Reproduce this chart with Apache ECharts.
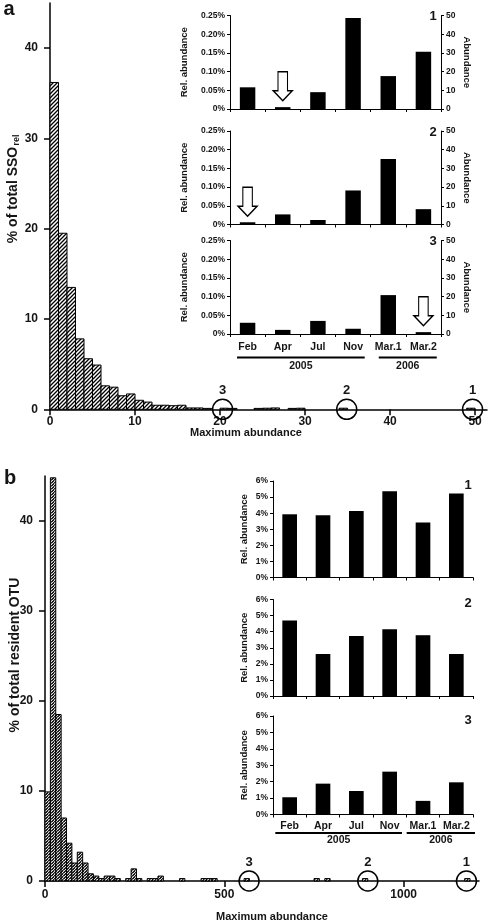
<!DOCTYPE html>
<html><head><meta charset="utf-8">
<script src="https://cdn.jsdelivr.net/npm/echarts@6/dist/echarts.min.js"></script>
<style>html,body{margin:0;padding:0;background:#fff}#c{width:493px;height:921px}</style>
</head><body><div id="c"></div>
<script>
// ---------------- data ----------------
// panel a histogram: bins of width 1 (maximum abundance), % of total SSOrel
const binA = 1;
const histA = [36.2, 19.5, 13.5, 7.8, 5.6, 4.9, 2.6, 2.45, 1.5, 1.7,
               1.0, 0.8, 0.45, 0.45, 0.4, 0.45, 0.15, 0.15, 0.1, 0,
               0.12, 0.1, 0, 0, 0.1, 0.12, 0.15, 0, 0.1, 0.12,
               0, 0, 0, 0, 0.12, 0, 0, 0, 0, 0,
               0, 0, 0, 0, 0, 0, 0, 0, 0, 0.12];
const circleValsA = [20.3, 34.9, 49.7];
const circleNames = ['3', '2', '1'];
const xTicksA = [0, 10, 20, 30, 40, 50];
const yTicksHist = [0, 10, 20, 30, 40];

// panel b histogram: bins of width 15, % of total resident OTU
const binB = 15;
const histB = [9.9, 44.8, 18.5, 7.0, 4.2, 2.0, 3.2, 2.0, 0.8, 0.55,
               0.27, 0.55, 0.55, 0.27, 0, 0.27, 1.35, 0.27, 0, 0.27,
               0.27, 0.55, 0, 0, 0, 0.27, 0, 0, 0, 0.27,
               0.27, 0.27, 0, 0, 0, 0, 0, 0.27, 0, 0,
               0, 0, 0, 0, 0, 0, 0, 0, 0, 0,
               0.27, 0, 0.27, 0, 0, 0, 0, 0, 0, 0.27,
               0, 0, 0, 0, 0, 0, 0, 0, 0, 0,
               0, 0, 0, 0, 0, 0, 0, 0, 0.27];
const circleValsB = [569, 900, 1175];
const xTicksB = [0, 500, 1000];

// insets
const months = ['Feb', 'Apr', 'Jul', 'Nov', 'Mar.1', 'Mar.2'];
const years = ['2005', '2006'];
const relA1 = [0.058, 0.005, 0.045, 0.243, 0.088, 0.153];
const relA2 = [0.006, 0.027, 0.012, 0.091, 0.175, 0.041];
const relA3 = [0.030, 0.011, 0.035, 0.014, 0.104, 0.005];
const arrowMonthsA = ['Apr', 'Feb', 'Mar.2'];
const arrowMid = 0.061;
const relB1 = [3.93, 3.87, 4.14, 5.36, 3.42, 5.22];
const relB2 = [4.69, 2.61, 3.73, 4.15, 3.78, 2.61];
const relB3 = [1.05, 1.88, 1.43, 2.61, 0.83, 1.96];
const insetNames = ['1', '2', '3'];

// ---------------- layout / style ----------------
const FONT = '"Liberation Sans", Arial, sans-serif';
const INK = '#151515';
const grids = [
  {left: 50, top: 3, width: 437, height: 406.3},      // 0 a hist
  {left: 230, top: 15.5, width: 211, height: 93.5},   // 1 a1
  {left: 230, top: 131, width: 211, height: 93.5},    // 2 a2
  {left: 230, top: 240.5, width: 211, height: 93.5},  // 3 a3
  {left: 45, top: 476, width: 434, height: 405},      // 4 b hist
  {left: 273, top: 481, width: 200, height: 96.5},    // 5 b1
  {left: 273, top: 599.5, width: 200, height: 96.5},  // 6 b2
  {left: 273, top: 716, width: 200, height: 98.5}     // 7 b3
];

function hatch(step, lw) {
  const c = document.createElement('canvas');
  c.width = c.height = step;
  const g = c.getContext('2d');
  g.fillStyle = '#fff'; g.fillRect(0, 0, step, step);
  g.strokeStyle = '#000'; g.lineWidth = lw;
  g.beginPath();
  g.moveTo(0, step); g.lineTo(step, 0);
  g.moveTo(-step / 2, step / 2); g.lineTo(step / 2, -step / 2);
  g.moveTo(step / 2, step * 1.5); g.lineTo(step * 1.5, step / 2);
  g.stroke();
  return {image: c, repeat: 'repeat'};
}
const patA = hatch(4, 1.3);
const patB = hatch(3.5, 1.4);

function histRender(bw, pat) {
  return function (params, api) {
    const x0 = api.value(0), h = api.value(1);
    if (!h) return null;
    const p0 = api.coord([x0, h]);
    const p1 = api.coord([x0 + bw, 0]);
    return {type: 'rect',
      shape: {x: p0[0], y: p0[1], width: p1[0] - p0[0], height: p1[1] - p0[1]},
      style: {fill: pat, stroke: '#000', lineWidth: 1}};
  };
}

const histAxisLine = {show: true, onZero: false, lineStyle: {color: '#000', width: 1.5}};
const histTick = (vals) => ({show: true, length: 6, customValues: vals, lineStyle: {color: '#000', width: 1.5}});
const histLabel = (vals, margin) => ({show: true, customValues: vals, fontSize: 12, fontWeight: 'bold', color: INK, fontFamily: FONT, margin: margin, formatter: v => String(v)});

function catAxis(gi, showLabel, margin) {
  return {type: 'category', gridIndex: gi, data: months, boundaryGap: true,
    axisLine: {show: true, lineStyle: {color: '#000', width: 1}},
    axisTick: {show: true, length: 3, lineStyle: {color: '#000'}},
    axisLabel: {show: showLabel, fontSize: 10.5, fontWeight: 'bold', color: INK, fontFamily: FONT, margin: margin, interval: 0},
    splitLine: {show: false}};
}
function pctAxisA(gi) {
  return {type: 'value', gridIndex: gi, min: 0, max: 0.25, interval: 0.05,
    name: 'Rel. abundance', nameLocation: 'middle', nameGap: 41,
    nameTextStyle: {fontSize: 9.5, fontWeight: 'bold', color: INK, fontFamily: FONT},
    axisLine: {show: true, lineStyle: {color: '#000', width: 1}},
    axisTick: {show: true, length: 3, lineStyle: {color: '#000'}},
    axisLabel: {fontSize: 8.5, fontWeight: 'bold', color: INK, fontFamily: FONT, margin: 5,
      formatter: v => v === 0 ? '0%' : v.toFixed(2) + '%'},
    splitLine: {show: false}};
}
function absAxisA(gi) {
  return {type: 'value', gridIndex: gi, position: 'right', min: 0, max: 50, interval: 10,
    name: 'Abundance', nameLocation: 'middle', nameGap: 21, nameRotate: -90,
    nameTextStyle: {fontSize: 9.5, fontWeight: 'bold', color: INK, fontFamily: FONT},
    axisLine: {show: true, lineStyle: {color: '#000', width: 1}},
    axisTick: {show: true, length: 3, lineStyle: {color: '#000'}},
    axisLabel: {fontSize: 8.5, fontWeight: 'bold', color: INK, fontFamily: FONT, margin: 5},
    splitLine: {show: false}};
}
function pctAxisB(gi) {
  return {type: 'value', gridIndex: gi, min: 0, max: 6, interval: 1,
    name: 'Rel. abundance', nameLocation: 'middle', nameGap: 24,
    nameTextStyle: {fontSize: 9.5, fontWeight: 'bold', color: INK, fontFamily: FONT},
    axisLine: {show: true, lineStyle: {color: '#000', width: 1}},
    axisTick: {show: true, length: 3, lineStyle: {color: '#000'}},
    axisLabel: {fontSize: 8.5, fontWeight: 'bold', color: INK, fontFamily: FONT, margin: 5,
      formatter: v => v + '%'},
    splitLine: {show: false}};
}

const arrowSymbol = 'path://M5,0L15,0L15,19L20,19L10,29L0,19L5,19Z';
function insetBar(xi, yi, data, arrowMonth) {
  const s = {type: 'bar', xAxisIndex: xi, yAxisIndex: yi, data: data, barWidth: '44%',
    itemStyle: {color: '#000'}, silent: true};
  if (arrowMonth) {
    s.markPoint = {symbol: arrowSymbol, symbolSize: [19, 29], silent: true,
      itemStyle: {color: '#fff', borderColor: '#000', borderWidth: 1.3},
      label: {show: false},
      data: [{coord: [arrowMonth, arrowMid]}]};
  }
  return s;
}
function circles(xi, yi, vals) {
  return {type: 'scatter', xAxisIndex: xi, yAxisIndex: yi, clip: false, silent: true,
    symbol: 'circle', symbolSize: 20, z: 5,
    itemStyle: {color: 'none', borderColor: '#000', borderWidth: 1.5, opacity: 1},
    label: {show: false},
    data: vals.map((v, i) => ({name: circleNames[i], value: [v, 0]}))};
}

const chart = echarts.init(document.getElementById('c'), null, {renderer: 'canvas', width: 493, height: 921});

const option = {
  animation: false,
  backgroundColor: '#fff',
  textStyle: {fontFamily: FONT},
  grid: grids.map(g => Object.assign({containLabel: false}, g)),
  xAxis: [
    {type: 'value', gridIndex: 0, min: 0, max: 51.4, axisLine: histAxisLine, axisTick: histTick(xTicksA), axisLabel: histLabel(xTicksA, 6), splitLine: {show: false}},
    catAxis(1, false, 8), catAxis(2, false, 8), catAxis(3, true, 8),
    {type: 'value', gridIndex: 4, min: 0, max: 1210, axisLine: histAxisLine, axisTick: histTick(xTicksB), axisLabel: histLabel(xTicksB, 8), splitLine: {show: false}},
    catAxis(5, false, 6), catAxis(6, false, 6), catAxis(7, true, 6)
  ],
  yAxis: [
    {type: 'value', gridIndex: 0, min: 0, max: 45, axisLine: histAxisLine, axisTick: histTick(yTicksHist), axisLabel: histLabel(yTicksHist, 12), splitLine: {show: false}},
    pctAxisA(1), pctAxisA(2), pctAxisA(3),
    absAxisA(1), absAxisA(2), absAxisA(3),
    {type: 'value', gridIndex: 4, min: 0, max: 45, axisLine: histAxisLine, axisTick: histTick(yTicksHist), axisLabel: histLabel(yTicksHist, 12), splitLine: {show: false}},
    pctAxisB(5), pctAxisB(6), pctAxisB(7)
  ],
  series: [
    {type: 'custom', xAxisIndex: 0, yAxisIndex: 0, silent: true, clip: false,
     renderItem: histRender(binA, patA), encode: {x: 0, y: 1},
     data: histA.map((v, i) => [i * binA, v])},
    circles(0, 0, circleValsA),
    insetBar(1, 1, relA1, arrowMonthsA[0]),
    insetBar(2, 2, relA2, arrowMonthsA[1]),
    insetBar(3, 3, relA3, arrowMonthsA[2]),
    {type: 'custom', xAxisIndex: 4, yAxisIndex: 7, silent: true, clip: false,
     renderItem: histRender(binB, patB), encode: {x: 0, y: 1},
     data: histB.map((v, i) => [i * binB, v])},
    circles(4, 7, circleValsB),
    insetBar(5, 8, relB1, null),
    insetBar(6, 9, relB2, null),
    insetBar(7, 10, relB3, null)
  ]
};
chart.setOption(option);

// -------- annotations positioned from the axes --------
const txt = (x, y, text, size, extra) => Object.assign({type: 'text', x: x, y: y, silent: true, z: 10,
  style: {text: text, fontSize: size, fontWeight: 'bold', fill: INK, fontFamily: FONT, align: 'center', verticalAlign: 'middle'}}, extra || {});
const line = (x1, x2, y) => ({type: 'line', silent: true, shape: {x1: x1, y1: y, x2: x2, y2: y}, style: {stroke: '#000', lineWidth: 2}});

const g = [];
g.push(txt(9, 9, 'a', 20));
g.push(txt(10, 478, 'b', 20));
// y titles
g.push(txt(13, 195, '% of total SSO', 14, {rotation: Math.PI / 2}));
g.push(txt(17, 140, 'rel', 9, {rotation: Math.PI / 2}));
g.push(txt(15, 655, '% of total resident OTU', 14, {rotation: Math.PI / 2}));
// x titles
g.push(txt(246, 433, 'Maximum abundance', 11));
g.push(txt(272, 916.5, 'Maximum abundance', 11));

// circle labels
circleValsA.forEach((v, i) => {
  const p = chart.convertToPixel({xAxisIndex: 0, yAxisIndex: 0}, [v, 0]);
  g.push(txt(p[0], p[1] - 19, circleNames[i], 13));
});
circleValsB.forEach((v, i) => {
  const p = chart.convertToPixel({xAxisIndex: 4, yAxisIndex: 7}, [v, 0]);
  g.push(txt(p[0], p[1] - 19, circleNames[i], 13));
});

// inset numbers
[1, 2, 3].forEach((gi, k) => {
  const gr = grids[gi];
  g.push(txt(gr.left + gr.width - 8, gr.top + 1, insetNames[k], 13));
});
[5, 6, 7].forEach((gi, k) => {
  const gr = grids[gi];
  g.push(txt(gr.left + gr.width - 5, gr.top + 4, insetNames[k], 13));
});

// year underlines
function yearMarks(xAxisIndex, gridIdx, lineGap, textGap, f) {
  const c = months.map(m => chart.convertToPixel({xAxisIndex: xAxisIndex}, m));
  const band = c[1] - c[0];
  const base = grids[gridIdx].top + grids[gridIdx].height;
  const l1 = [c[0] - f[0] * band, c[3] + f[1] * band];
  const l2 = [c[4] - f[2] * band, c[5] + f[3] * band];
  g.push(line(l1[0], l1[1], base + lineGap));
  g.push(line(l2[0], l2[1], base + lineGap));
  g.push(txt((l1[0] + l1[1]) / 2, base + textGap, years[0], 10.5));
  g.push(txt((l2[0] + l2[1]) / 2, base + textGap, years[1], 10.5));
}
yearMarks(3, 3, 23.5, 32.5, [0.3, 0.33, 0.27, 0.38]);
yearMarks(7, 7, 18.6, 26, [0.43, 0.37, 0.49, 0.56]);

chart.setOption({graphic: g});
</script>
</body></html>
